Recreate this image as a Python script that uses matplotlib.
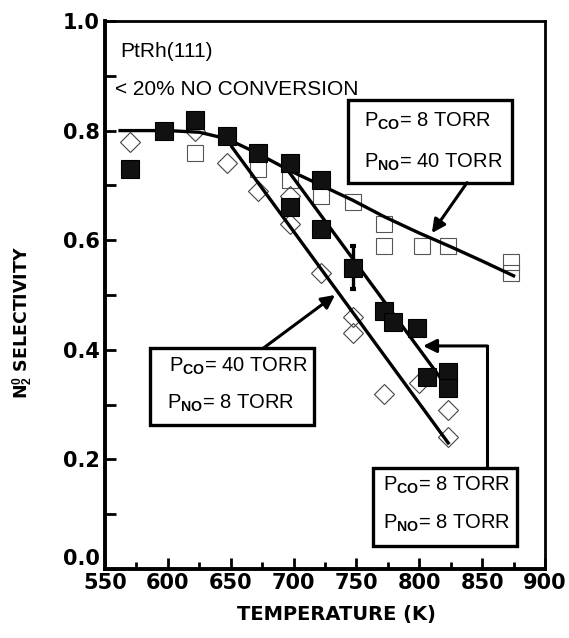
import matplotlib
matplotlib.use('Agg')
import matplotlib.pyplot as plt
from matplotlib.patches import Rectangle
from matplotlib.ticker import MultipleLocator, FormatStrFormatter

plt.rcParams['mathtext.fontset'] = 'custom'
plt.rcParams['mathtext.rm'] = 'Liberation Sans'
plt.rcParams['mathtext.bf'] = 'Liberation Sans:bold'
plt.rcParams['mathtext.it'] = 'Liberation Sans:italic'

# ── Data ─────────────────────────────────────────────────────────────────
# filled squares
filled_T = [570, 597, 622, 647, 672, 697, 722, 697, 722, 747, 772, 779, 798, 806, 823, 823]
filled_S = [0.73, 0.80, 0.82, 0.79, 0.76, 0.74, 0.71, 0.66, 0.62, 0.55, 0.47, 0.45, 0.44, 0.35, 0.36, 0.33]
err_T = [747]
err_S = [0.55]
err_dS = [0.04]

# open diamonds
diam_T = [570, 622, 647, 672, 697, 697, 722, 747, 747, 772, 800, 823, 823]
diam_S = [0.78, 0.80, 0.74, 0.69, 0.68, 0.63, 0.54, 0.46, 0.43, 0.32, 0.34, 0.29, 0.24]

# open squares
osq_T = [622, 672, 697, 722, 747, 772, 772, 802, 823, 873, 873]
osq_S = [0.76, 0.73, 0.71, 0.68, 0.67, 0.63, 0.59, 0.59, 0.59, 0.56, 0.54]

# guide-to-the-eye lines
curve_T = [562, 600, 625, 647, 670, 697, 722, 747, 772, 800, 825, 850, 875]
curve_S = [0.80, 0.80, 0.797, 0.785, 0.76, 0.727, 0.70, 0.673, 0.643, 0.613, 0.588, 0.562, 0.535]
steep_T = [651, 823]
steep_S = [0.77, 0.23]
mid_T = [693, 818]
mid_S = [0.735, 0.345]

fig = plt.figure(figsize=(5.69, 6.38), dpi=100)
ax = fig.add_axes([0.1845, 0.1082, 0.7733, 0.8589])

ax.plot(osq_T, osq_S, 's', ms=12, mfc='none', mec='#555555', mew=0.8, zorder=2)
ax.plot(diam_T, diam_S, 'D', ms=10.5, mfc='none', mec='#444444', mew=0.8, zorder=2)

ax.plot(curve_T, curve_S, color='black', lw=2.4, zorder=3)
ax.plot(steep_T, steep_S, color='black', lw=2.4, zorder=3)
ax.plot(mid_T, mid_S, color='black', lw=2.4, zorder=3)

ax.errorbar(err_T, err_S, yerr=err_dS, fmt='none', ecolor='black', elinewidth=2.4,
            capsize=2.5, capthick=3, zorder=4)
ax.plot(filled_T, filled_S, 's', ms=13, mfc='#111111', mec='black', mew=0.8, zorder=4)

ax.set_xlim(550, 900)
ax.set_ylim(0.0, 1.0)
ax.xaxis.set_major_locator(MultipleLocator(50))
ax.xaxis.set_minor_locator(MultipleLocator(25))
ax.yaxis.set_major_locator(MultipleLocator(0.2))
ax.yaxis.set_minor_locator(MultipleLocator(0.1))
ax.yaxis.set_major_formatter(FormatStrFormatter('%.1f'))
ax.tick_params(which='both', direction='in', top=False, right=False, width=2)
ax.tick_params(which='major', length=8)
ax.tick_params(axis='x', which='minor', length=5)
ax.tick_params(axis='y', which='minor', length=8)
ax.tick_params(axis='x', pad=3)
ax.tick_params(axis='y', pad=4)
for lab in ax.get_xticklabels() + ax.get_yticklabels():
    lab.set_fontfamily('DejaVu Sans')
    lab.set_fontweight('bold')
    lab.set_fontsize(15)

for side in ['left', 'bottom']:
    ax.spines[side].set_linewidth(2.8)
for side in ['top', 'right']:
    ax.spines[side].set_linewidth(2.0)

ax.set_xlabel('TEMPERATURE (K)', fontsize=14, fontweight='bold', family='DejaVu Sans')
ax.xaxis.set_label_coords(0.525, -0.065)
ax.set_ylabel(r'N$_{\mathbf{2}}^{\mathbf{0}}$ SELECTIVITY', fontsize=12.5,
              fontweight='bold', family='DejaVu Sans')
ax.yaxis.set_label_coords(-0.158, 0.45)

# ── text and boxes ───────────────────────────────────────────────────────
txt = dict(fontsize=15, family='Liberation Sans', va='center', ha='left', zorder=6)
ax.text(562, 0.945, 'PtRh(111)', **txt)
ax.text(558, 0.875, '< 20% NO CONVERSION', **txt)

txt['fontsize'] = 14.5

def box(x0, y0, x1, y1):
    ax.add_patch(Rectangle((x0, y0), x1 - x0, y1 - y0, fill=True, fc='white',
                           ec='black', lw=2.4, zorder=5))

box(743, 0.705, 874, 0.856)
ax.text(756, 0.816, r'$\mathrm{P}_{\mathbf{CO}}$= 8 TORR', **txt)
ax.text(756, 0.742, r'$\mathrm{P}_{\mathbf{NO}}$= 40 TORR', **txt)

box(586, 0.263, 716, 0.403)
ax.text(601, 0.370, r'$\mathrm{P}_{\mathbf{CO}}$= 40 TORR', **txt)
ax.text(599, 0.302, r'$\mathrm{P}_{\mathbf{NO}}$= 8 TORR', **txt)

box(763, 0.042, 878, 0.184)
ax.text(771, 0.153, r'$\mathrm{P}_{\mathbf{CO}}$= 8 TORR', **txt)
ax.text(771, 0.084, r'$\mathrm{P}_{\mathbf{NO}}$= 8 TORR', **txt)

arrow = dict(arrowstyle='-|>', color='black', lw=2.2, mutation_scale=20,
             shrinkA=0, shrinkB=0)
ax.annotate('', xy=(810, 0.613), xytext=(838, 0.705), arrowprops=arrow, zorder=6)
ax.annotate('', xy=(733, 0.50), xytext=(676, 0.403), arrowprops=arrow, zorder=6)
ax.plot([854, 854], [0.184, 0.407], color='black', lw=2.2, zorder=6)
ax.annotate('', xy=(803, 0.407), xytext=(854, 0.407), arrowprops=arrow, zorder=6)

# lift the "0.0" label a little, as in the original
fig.canvas.draw()
for t in ax.yaxis.get_major_ticks():
    if abs(t.get_loc()) < 1e-9:
        t.label1.set_va('bottom')

fig.savefig('out.png', dpi=100)
